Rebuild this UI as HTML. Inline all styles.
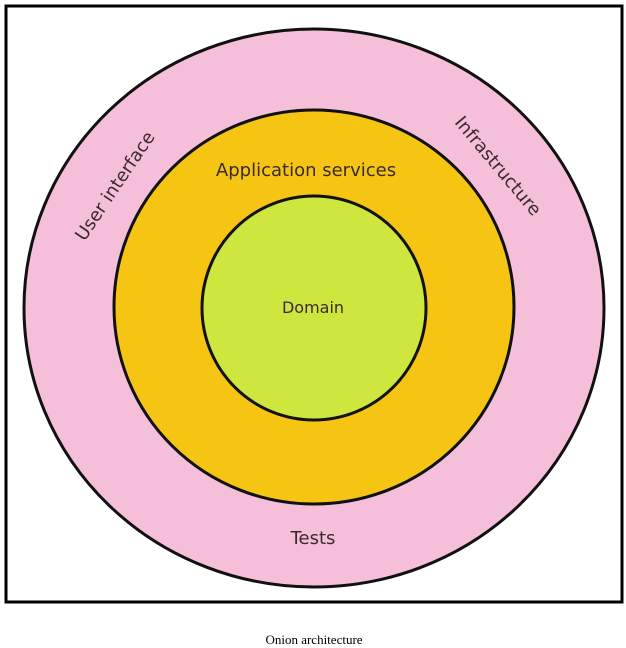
<!DOCTYPE html>
<html><head><style>
html,body{margin:0;padding:0;background:#fff;}
body{width:626px;height:648px;position:relative;overflow:hidden;}
</style></head><body>
<svg width="626" height="648" viewBox="0 0 626 648" style="position:absolute;left:0;top:0">
<rect x="6" y="6" width="616" height="596" fill="#fff" stroke="#000" stroke-width="3"/>
<ellipse cx="314" cy="308" rx="290" ry="279" fill="#f5bfd9" stroke="#111" stroke-width="3"/>
<ellipse cx="314" cy="307" rx="200" ry="197" fill="#f6c514" stroke="#111" stroke-width="3"/>
<ellipse cx="314" cy="308" rx="112" ry="112" fill="#cfe63f" stroke="#111" stroke-width="3"/>
<g font-family="DejaVu Sans, Liberation Sans, sans-serif" fill="#3a2a30">
<text x="306" y="176" font-size="18" text-anchor="middle">Application services</text>
<text x="313" y="313" font-size="16" text-anchor="middle">Domain</text>
<text x="313" y="544" font-size="18" text-anchor="middle">Tests</text>
<text transform="translate(115,186) rotate(-56)" font-size="18" text-anchor="middle" dy="6">User interface</text>
<text transform="translate(498,166) rotate(50)" font-size="18" text-anchor="middle" dy="6">Infrastructure</text>
</g>
<text x="314" y="644" font-family="Liberation Serif, serif" font-size="13" text-anchor="middle" fill="#000">Onion architecture</text>
</svg>
</body></html>
